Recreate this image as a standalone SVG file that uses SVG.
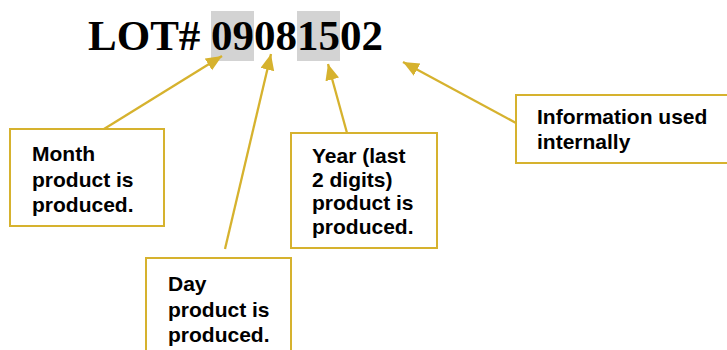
<svg xmlns="http://www.w3.org/2000/svg" width="727" height="350" viewBox="0 0 727 350">
<style>
.box{fill:#fff;stroke:#D6B22E;stroke-width:2}
.lbl{font-family:"Liberation Sans",Arial,sans-serif;font-weight:bold;font-size:21px;fill:#000}
.title{font-family:"Liberation Serif","Times New Roman",serif;font-weight:bold;font-size:43px;fill:#000}
.hl{fill:#D3D3D3}
.conn{stroke:#D6B22E;stroke-width:2.3;fill:none}
</style>
<defs>
<marker id="ah" markerUnits="userSpaceOnUse" markerWidth="18" markerHeight="16" refX="16" refY="7" orient="auto">
<path d="M0,0 L16,7 L0,14 Z" fill="#D6B22E"/>
</marker>
</defs>
<rect width="727" height="350" fill="#fff"/>
<g id="title">
<rect class="hl" x="211" y="11" width="43" height="50"/>
<rect class="hl" x="297" y="11" width="43" height="50"/>
<text class="title" x="88" y="50">LOT# 09081502</text>
</g>
<g id="month">
<rect class="box" x="10" y="129" width="154" height="97"/>
<text class="lbl"><tspan x="32" y="161">Month</tspan><tspan x="32" y="186.5">product is</tspan><tspan x="32" y="212">produced.</tspan></text>
</g>
<g id="day">
<rect class="box" x="146" y="258" width="145" height="110"/>
<text class="lbl"><tspan x="168" y="291">Day</tspan><tspan x="168" y="316.5">product is</tspan><tspan x="168" y="342">produced.</tspan></text>
</g>
<g id="year">
<rect class="box" x="291" y="133" width="146" height="115"/>
<text class="lbl"><tspan x="312" y="163">Year (last</tspan><tspan x="312" y="186.5">2 digits)</tspan><tspan x="312" y="210">product is</tspan><tspan x="312" y="233.5">produced.</tspan></text>
</g>
<g id="info">
<rect class="box" x="516" y="95" width="230" height="68"/>
<text class="lbl"><tspan x="537" y="124">Information used</tspan><tspan x="537" y="149">internally</tspan></text>
</g>
<g id="connectors">
<line class="conn" x1="104" y1="129" x2="222" y2="56" marker-end="url(#ah)"/>
<line class="conn" x1="225" y1="249" x2="271" y2="54" marker-end="url(#ah)"/>
<line class="conn" x1="347" y1="133" x2="328" y2="64" marker-end="url(#ah)"/>
<line class="conn" x1="516" y1="123" x2="403" y2="62" marker-end="url(#ah)"/>
</g>
</svg>
